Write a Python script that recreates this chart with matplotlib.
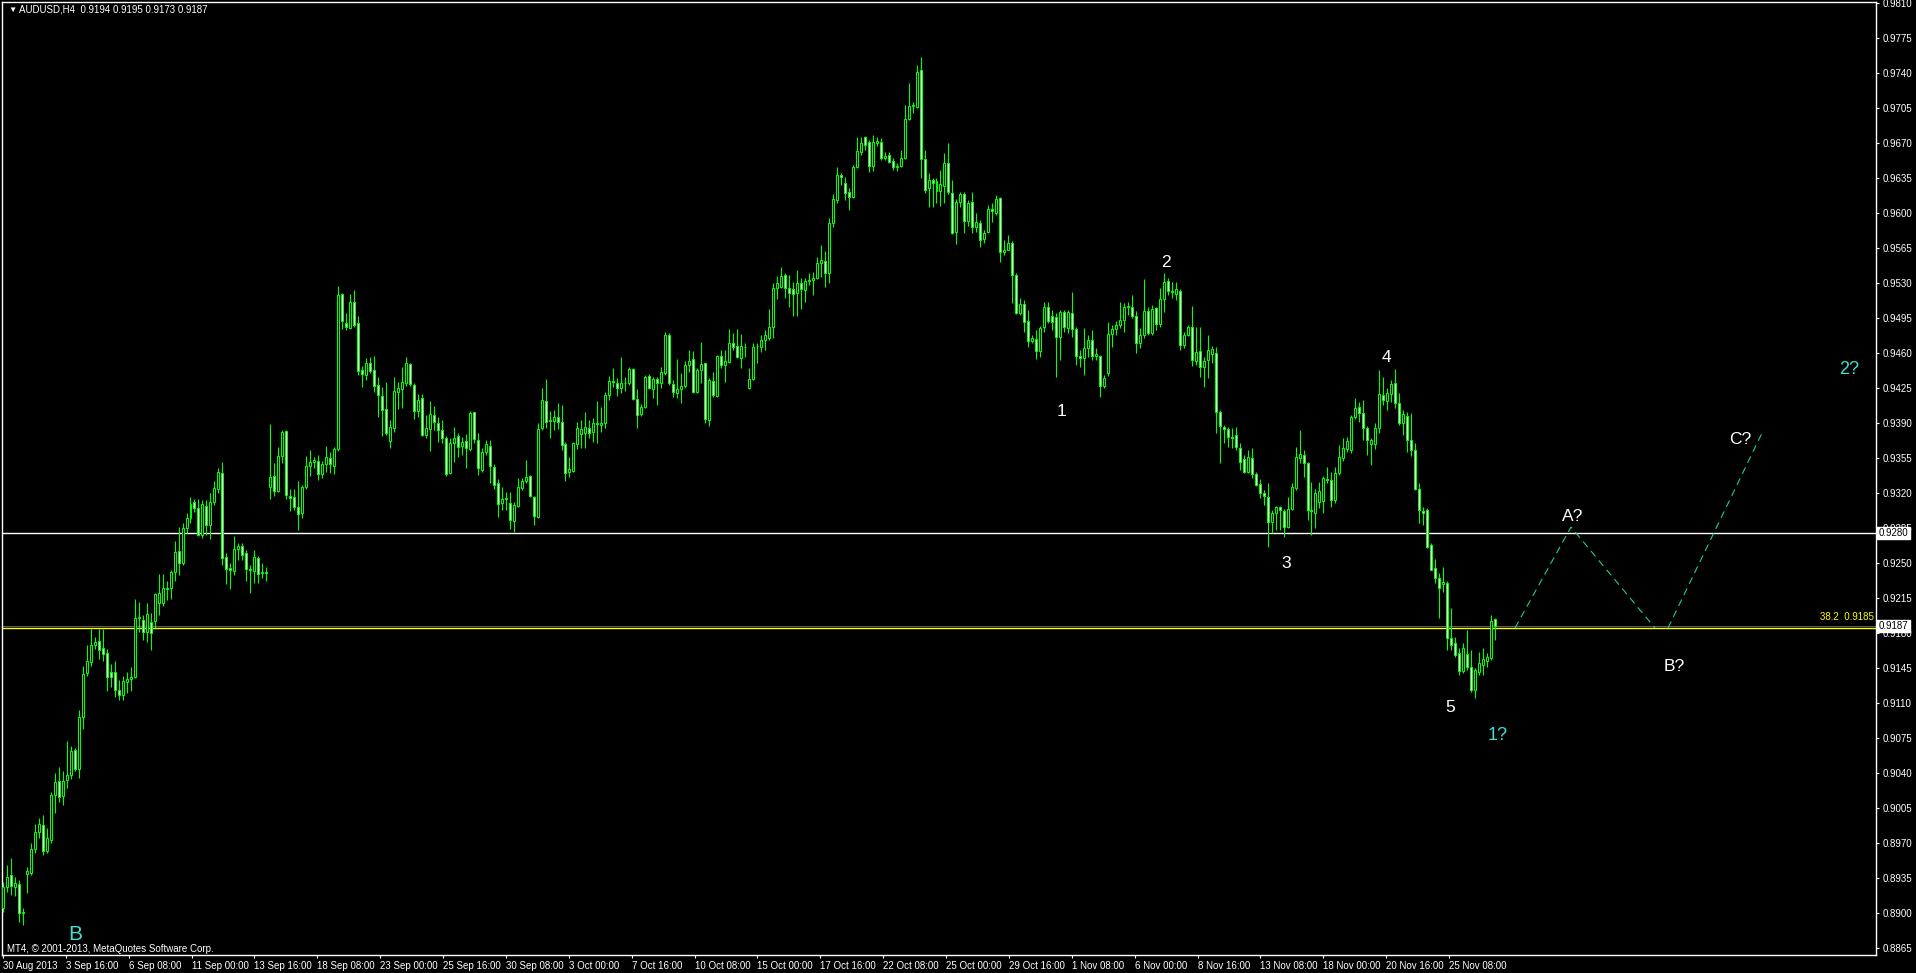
import numpy as np
import matplotlib
matplotlib.use("Agg")
import matplotlib.pyplot as plt
from matplotlib.transforms import blended_transform_factory

# AUDUSD H4 candles, prices in pips (0.0001)
opens = [
    8905, 8926, 8938, 8926, 8929, 8900, 8939, 8940, 8964, 8981,
    8988, 8962, 8973, 9018, 9032, 9017, 9033, 9038, 9063, 9044,
    9096, 9140, 9151, 9168, 9172, 9165, 9160, 9141, 9141, 9123,
    9118, 9131, 9134, 9136, 9195, 9193, 9181, 9191, 9192, 9210,
    9210, 9225, 9225, 9241, 9262, 9250, 9285, 9295, 9311, 9305,
    9278, 9307, 9288, 9311, 9324, 9340, 9256, 9245, 9242, 9264,
    9267, 9260, 9244, 9242, 9255, 9240, 9241, 9326, 9337, 9322,
    9357, 9382, 9317, 9316, 9306, 9300, 9326, 9347, 9351, 9352,
    9339, 9349, 9355, 9347, 9364, 9519, 9490, 9485, 9511, 9490,
    9443, 9438, 9450, 9443, 9428, 9417, 9404, 9372, 9385, 9421,
    9424, 9430, 9449, 9428, 9402, 9415, 9378, 9384, 9398, 9390,
    9383, 9375, 9340, 9370, 9377, 9367, 9372, 9364, 9401, 9373,
    9343, 9361, 9367, 9346, 9330, 9310, 9314, 9310, 9292, 9307,
    9325, 9332, 9337, 9316, 9296, 9385, 9412, 9392, 9392, 9396,
    9391, 9369, 9341, 9342, 9369, 9379, 9380, 9385, 9381, 9390,
    9388, 9390, 9418, 9432, 9430, 9425, 9430, 9430, 9444, 9414,
    9399, 9406, 9437, 9424, 9434, 9430, 9440, 9478, 9429, 9420,
    9424, 9427, 9448, 9454, 9421, 9443, 9450, 9393, 9432, 9417,
    9457, 9448, 9451, 9470, 9467, 9455, 9466, 9425, 9434, 9467,
    9466, 9473, 9475, 9486, 9525, 9526, 9538, 9525, 9524, 9520,
    9530, 9523, 9532, 9533, 9535, 9550, 9552, 9540, 9590, 9613,
    9638, 9630, 9621, 9616, 9646, 9661, 9676, 9671, 9647, 9670,
    9671, 9655, 9658, 9652, 9646, 9647, 9655, 9694, 9707, 9706,
    9743, 9654, 9625, 9633, 9632, 9622, 9627, 9650, 9620, 9581,
    9611, 9619, 9592, 9611, 9586, 9590, 9574, 9581, 9604, 9600,
    9615, 9561, 9563, 9570, 9538, 9500, 9509, 9492, 9472, 9474,
    9462, 9486, 9506, 9497, 9496, 9476, 9501, 9485, 9500, 9484,
    9457, 9455, 9465, 9473, 9457, 9457, 9427, 9440, 9479, 9484,
    9488, 9493, 9506, 9506, 9497, 9470, 9478, 9502, 9480, 9505,
    9489, 9514, 9532, 9522, 9519, 9522, 9468, 9478, 9486, 9452,
    9462, 9446, 9453, 9459, 9460, 9401, 9386, 9384, 9376, 9378,
    9365, 9354, 9341, 9355, 9339, 9329, 9320, 9316, 9291, 9300,
    9306, 9302, 9286, 9304, 9325, 9355, 9358, 9350, 9303, 9300,
    9311, 9312, 9334, 9333, 9313, 9340, 9355, 9364, 9363, 9396,
    9406, 9400, 9385, 9369, 9369, 9385, 9418, 9412, 9419, 9430,
    9410, 9390, 9397, 9373, 9363, 9324, 9302, 9303, 9268, 9245,
    9235, 9229, 9230, 9175, 9170, 9160, 9142, 9159, 9146, 9123,
    9141, 9148, 9152, 9155, 9194,
]
highs = [
    8931, 8948, 8955, 8936, 8933, 8905, 8946, 8970, 8989, 8995,
    8998, 8985, 9021, 9040, 9046, 9042, 9072, 9067, 9065, 9103,
    9147, 9168, 9184, 9176, 9184, 9184, 9164, 9149, 9152, 9133,
    9137, 9141, 9146, 9214, 9211, 9198, 9210, 9200, 9220, 9239,
    9239, 9232, 9243, 9272, 9286, 9290, 9300, 9316, 9314, 9314,
    9313, 9313, 9320, 9332, 9345, 9351, 9260, 9250, 9277, 9270,
    9270, 9263, 9248, 9263, 9257, 9250, 9246, 9389, 9350, 9366,
    9383, 9383, 9324, 9324, 9332, 9328, 9357, 9363, 9356, 9358,
    9352, 9367, 9361, 9366, 9527, 9520, 9500, 9519, 9523, 9497,
    9447, 9455, 9456, 9457, 9436, 9426, 9431, 9393, 9436, 9431,
    9446, 9456, 9450, 9430, 9419, 9419, 9398, 9412, 9407, 9396,
    9393, 9377, 9375, 9386, 9380, 9376, 9379, 9402, 9401, 9380,
    9365, 9373, 9373, 9349, 9334, 9326, 9321, 9321, 9311, 9335,
    9335, 9353, 9338, 9317, 9390, 9425, 9434, 9402, 9403, 9410,
    9408, 9371, 9356, 9371, 9391, 9393, 9401, 9393, 9395, 9412,
    9406, 9421, 9437, 9445, 9435, 9456, 9436, 9446, 9445, 9424,
    9409, 9438, 9439, 9436, 9436, 9446, 9481, 9480, 9433, 9454,
    9440, 9452, 9463, 9462, 9445, 9471, 9450, 9435, 9441, 9458,
    9463, 9463, 9484, 9480, 9484, 9479, 9470, 9445, 9470, 9470,
    9478, 9483, 9504, 9530, 9537, 9546, 9540, 9538, 9531, 9543,
    9535, 9535, 9540, 9541, 9556, 9568, 9562, 9595, 9619, 9646,
    9640, 9636, 9625, 9648, 9676, 9676, 9677, 9673, 9678, 9676,
    9675, 9661, 9661, 9655, 9650, 9663, 9708, 9730, 9711, 9748,
    9756, 9663, 9640, 9635, 9635, 9643, 9660, 9670, 9633, 9614,
    9621, 9621, 9613, 9621, 9600, 9593, 9583, 9608, 9610, 9618,
    9616, 9573, 9578, 9572, 9540, 9515, 9513, 9503, 9478, 9483,
    9487, 9511, 9511, 9503, 9500, 9503, 9503, 9503, 9521, 9486,
    9463, 9485, 9478, 9483, 9465, 9458, 9438, 9491, 9488, 9492,
    9511, 9510, 9511, 9518, 9502, 9485, 9534, 9506, 9508, 9506,
    9525, 9540, 9535, 9531, 9531, 9524, 9481, 9488, 9507, 9486,
    9486, 9456, 9478, 9467, 9466, 9403, 9388, 9386, 9385, 9386,
    9370, 9358, 9363, 9365, 9341, 9334, 9323, 9330, 9303, 9307,
    9307, 9304, 9316, 9330, 9366, 9383, 9363, 9351, 9331, 9324,
    9331, 9337, 9346, 9341, 9346, 9368, 9375, 9376, 9398, 9415,
    9411, 9413, 9387, 9375, 9390, 9443, 9436, 9425, 9433, 9444,
    9420, 9403, 9401, 9400, 9370, 9330, 9306, 9305, 9270, 9254,
    9240, 9246, 9232, 9205, 9176, 9165, 9170, 9183, 9163, 9145,
    9161, 9165, 9160, 9198, 9195,
]
lows = [
    8901, 8921, 8918, 8917, 8891, 8888, 8920, 8938, 8960, 8975,
    8958, 8960, 8970, 9000, 9011, 9008, 9025, 9034, 9042, 9035,
    9084, 9137, 9147, 9164, 9154, 9152, 9122, 9126, 9116, 9113,
    9113, 9120, 9122, 9135, 9181, 9173, 9171, 9163, 9185, 9198,
    9207, 9213, 9214, 9232, 9238, 9248, 9280, 9290, 9301, 9277,
    9275, 9278, 9274, 9308, 9320, 9248, 9229, 9224, 9238, 9253,
    9253, 9232, 9220, 9230, 9230, 9235, 9232, 9314, 9317, 9321,
    9350, 9314, 9302, 9303, 9283, 9295, 9324, 9337, 9345, 9333,
    9335, 9341, 9340, 9339, 9362, 9484, 9483, 9484, 9486, 9438,
    9426, 9433, 9440, 9421, 9396, 9377, 9378, 9365, 9381, 9404,
    9405, 9427, 9427, 9394, 9396, 9377, 9375, 9362, 9383, 9371,
    9370, 9337, 9339, 9351, 9356, 9358, 9345, 9362, 9370, 9338,
    9341, 9358, 9330, 9324, 9296, 9303, 9303, 9284, 9281, 9306,
    9323, 9330, 9316, 9288, 9295, 9383, 9385, 9375, 9383, 9384,
    9363, 9332, 9336, 9341, 9364, 9365, 9365, 9375, 9371, 9370,
    9381, 9385, 9413, 9426, 9417, 9420, 9422, 9428, 9413, 9385,
    9397, 9405, 9424, 9415, 9408, 9425, 9438, 9428, 9416, 9415,
    9410, 9425, 9441, 9420, 9420, 9430, 9390, 9387, 9416, 9416,
    9445, 9431, 9450, 9463, 9455, 9445, 9456, 9424, 9433, 9450,
    9461, 9463, 9473, 9475, 9514, 9525, 9515, 9506, 9497, 9497,
    9504, 9511, 9528, 9518, 9534, 9536, 9526, 9530, 9586, 9610,
    9628, 9613, 9603, 9615, 9645, 9658, 9663, 9641, 9642, 9667,
    9653, 9653, 9650, 9643, 9642, 9646, 9654, 9693, 9700, 9705,
    9635, 9620, 9606, 9606, 9610, 9607, 9610, 9619, 9579, 9569,
    9606, 9580, 9587, 9580, 9581, 9566, 9570, 9580, 9591, 9598,
    9551, 9558, 9563, 9510, 9499, 9498, 9481, 9466, 9470, 9454,
    9456, 9481, 9490, 9483, 9436, 9453, 9481, 9480, 9476, 9448,
    9446, 9438, 9456, 9453, 9453, 9416, 9425, 9437, 9466, 9478,
    9485, 9481, 9498, 9495, 9460, 9465, 9475, 9478, 9478, 9483,
    9486, 9501, 9518, 9515, 9513, 9463, 9465, 9477, 9447, 9448,
    9436, 9426, 9435, 9450, 9380, 9350, 9370, 9366, 9365, 9363,
    9343, 9340, 9340, 9335, 9327, 9315, 9308, 9266, 9280, 9283,
    9283, 9276, 9285, 9303, 9323, 9350, 9336, 9293, 9278, 9285,
    9305, 9300, 9330, 9306, 9310, 9338, 9352, 9361, 9360, 9394,
    9391, 9373, 9358, 9348, 9364, 9380, 9408, 9403, 9411, 9405,
    9388, 9378, 9361, 9357, 9323, 9290, 9288, 9265, 9243, 9230,
    9195, 9221, 9163, 9163, 9156, 9138, 9140, 9143, 9121, 9115,
    9138, 9138, 9146, 9153, 9173,
]
closes = [
    8926, 8936, 8927, 8930, 8900, 8901, 8942, 8964, 8981, 8989,
    8962, 8975, 9018, 9031, 9016, 9032, 9038, 9062, 9044, 9096,
    9139, 9152, 9168, 9171, 9163, 9159, 9136, 9136, 9123, 9118,
    9132, 9134, 9136, 9195, 9196, 9181, 9199, 9180, 9219, 9220,
    9225, 9224, 9241, 9261, 9250, 9285, 9295, 9309, 9305, 9278,
    9309, 9288, 9311, 9325, 9341, 9255, 9244, 9243, 9264, 9267,
    9258, 9244, 9243, 9256, 9239, 9241, 9240, 9336, 9322, 9357,
    9381, 9318, 9315, 9306, 9299, 9326, 9347, 9351, 9353, 9339,
    9349, 9356, 9349, 9364, 9518, 9492, 9486, 9511, 9488, 9442,
    9439, 9450, 9442, 9427, 9418, 9403, 9380, 9386, 9422, 9425,
    9431, 9450, 9429, 9402, 9413, 9378, 9385, 9399, 9391, 9383,
    9375, 9339, 9370, 9375, 9366, 9371, 9365, 9400, 9374, 9345,
    9361, 9369, 9347, 9328, 9309, 9314, 9315, 9293, 9308, 9326,
    9332, 9336, 9317, 9297, 9384, 9413, 9391, 9393, 9396, 9391,
    9368, 9340, 9344, 9370, 9385, 9384, 9386, 9380, 9390, 9389,
    9390, 9418, 9432, 9431, 9425, 9430, 9430, 9444, 9414, 9398,
    9406, 9436, 9425, 9434, 9430, 9441, 9478, 9430, 9421, 9424,
    9427, 9448, 9452, 9421, 9443, 9449, 9394, 9433, 9418, 9457,
    9448, 9452, 9470, 9466, 9456, 9467, 9466, 9434, 9466, 9467,
    9473, 9478, 9486, 9525, 9530, 9537, 9525, 9520, 9519, 9530,
    9524, 9532, 9533, 9535, 9550, 9553, 9540, 9590, 9614, 9638,
    9636, 9620, 9616, 9646, 9662, 9670, 9668, 9647, 9671, 9672,
    9655, 9657, 9651, 9646, 9647, 9655, 9694, 9707, 9708, 9741,
    9654, 9623, 9633, 9630, 9622, 9629, 9650, 9621, 9580, 9611,
    9619, 9592, 9610, 9586, 9591, 9573, 9580, 9604, 9602, 9614,
    9561, 9563, 9570, 9538, 9500, 9509, 9491, 9472, 9475, 9462,
    9485, 9506, 9492, 9491, 9476, 9501, 9486, 9501, 9484, 9457,
    9455, 9465, 9473, 9457, 9459, 9427, 9435, 9479, 9484, 9488,
    9493, 9506, 9507, 9497, 9470, 9478, 9502, 9480, 9504, 9489,
    9514, 9531, 9522, 9521, 9524, 9468, 9478, 9486, 9453, 9461,
    9446, 9452, 9463, 9464, 9401, 9387, 9384, 9376, 9375, 9366,
    9351, 9341, 9356, 9339, 9328, 9320, 9317, 9291, 9300, 9306,
    9303, 9286, 9304, 9326, 9356, 9359, 9350, 9303, 9302, 9320,
    9322, 9335, 9333, 9313, 9340, 9356, 9365, 9372, 9396, 9405,
    9400, 9385, 9373, 9373, 9385, 9419, 9413, 9420, 9429, 9410,
    9390, 9399, 9373, 9363, 9324, 9303, 9300, 9266, 9243, 9235,
    9225, 9231, 9175, 9168, 9158, 9142, 9165, 9146, 9123, 9143,
    9150, 9154, 9156, 9192, 9187,
]

date_labels = ['30 Aug 2013', '3 Sep 16:00', '6 Sep 08:00', '11 Sep 00:00', '13 Sep 16:00',
               '18 Sep 08:00', '23 Sep 00:00', '25 Sep 16:00', '30 Sep 08:00', '3 Oct 00:00',
               '7 Oct 16:00', '10 Oct 08:00', '15 Oct 00:00', '17 Oct 16:00', '22 Oct 08:00',
               '25 Oct 00:00', '29 Oct 16:00', '1 Nov 08:00', '6 Nov 00:00', '8 Nov 16:00',
               '13 Nov 08:00', '18 Nov 00:00', '20 Nov 16:00', '25 Nov 08:00']
price_ticks = [8865, 8900, 8935, 8970, 9005, 9040, 9075, 9110, 9145, 9180, 9215, 9250,
               9285, 9320, 9355, 9390, 9425, 9460, 9495, 9530, 9565, 9600, 9635, 9670,
               9705, 9740, 9775, 9810]

wave_labels = ['1', '2', '3', '4', '5']
wave_px = [(1062, 412), (1166, 263), (1286, 564), (1386, 357), (1450, 708)]
abc_labels = ['A?', 'B?', 'C?']
abc_px = [(1573, 517), (1674, 667), (1740, 440)]

level_white = 9280
level_fib = 9185
bid = 9187

plt.rcParams['font.family'] = ['Liberation Sans', 'DejaVu Sans']

W, H = 1916, 973
o = np.array(opens) / 1e4
h = np.array(highs) / 1e4
l = np.array(lows) / 1e4
c = np.array(closes) / 1e4
n = len(c)
xs = np.arange(n)

# pixel layout helpers (bar 0 at x=3px, last bar at x=1495px, 1 pip per px)
sp = (1495 - 3) / (n - 1)
def dx(X):
    return (X - 3) / sp
def dy(Y):
    return 0.9280 - (Y - 533) / 1e4

fig = plt.figure(figsize=(W / 100, H / 100), dpi=100, facecolor='black')
ax = fig.add_axes([2 / W, (H - 955) / H, 1874 / W, 953 / H])
ax.set_facecolor('black')
ax.set_xlim(dx(2), dx(1876))
ax.set_ylim(dy(955), dy(2))

green = '#00FF00'
ax.vlines(xs, l, h, color=green, lw=0.8, zorder=2)
bottoms = np.minimum(o, c)
heights = np.abs(c - o)
faces = ['white' if cc < oo else 'black' for oo, cc in zip(o, c)]
ax.bar(xs, heights, bottom=bottoms, width=0.5, color=faces, edgecolor=green,
       linewidth=0.75, zorder=3)

# horizontal levels
ax.axhline(level_white / 1e4, color='white', lw=1, zorder=1)
ax.axhline(bid / 1e4 + 0.00005, color='#707070', lw=0.6, zorder=1)
ax.axhline(level_fib / 1e4, color='#FFFF00', lw=1, zorder=1)
ax.text(dx(1874), level_fib / 1e4 + 0.00055, '38.2  0.9185', color='#FFFF00',
        fontsize=7, ha='right', va='bottom')

# projected path
dash = '#1ED27A'
ax.plot([dx(1515), dx(1571), dx(1655)], [dy(628), dy(527), dy(628)], color=dash,
        lw=0.8, linestyle=(0, (6.5, 4.5)), zorder=4)
ax.plot([dx(1668), dx(1762)], [dy(628), dy(433)], color=dash,
        lw=0.8, linestyle=(0, (6.5, 4.5)), zorder=4)

for t, (X, Y) in zip(wave_labels, wave_px):
    ax.text(dx(X), dy(Y), t, color='white', fontsize=12.5, ha='center', va='center')
for t, (X, Y) in zip(abc_labels, abc_px):
    ax.text(dx(X), dy(Y), t, color='white', fontsize=12.5, ha='center', va='center')
turq = '#40E0D0'
ax.text(dx(1498), dy(736), '1?', color=turq, fontsize=13, ha='center', va='center')
ax.text(dx(1849), dy(370), '2?', color=turq, fontsize=13, ha='center', va='center')
ax.text(dx(75), dy(934), 'B', color=turq, fontsize=15, ha='center', va='center')

# axes styling
for s in ax.spines.values():
    s.set_color('white')
    s.set_linewidth(1)
ax.yaxis.tick_right()
ax.set_yticks(np.array(price_ticks) / 1e4)
ax.set_yticklabels([f'{p / 1e4:.4f}' for p in price_ticks])
ax.tick_params(axis='y', colors='white', labelcolor='white', labelsize=7,
               direction='out', length=2.5, width=0.8, pad=2)
ax.set_xticks([dx(3 + 62.87 * k) for k in range(len(date_labels))])
ax.set_xticklabels(date_labels, ha='left')
ax.tick_params(axis='x', colors='white', labelcolor='white', labelsize=7,
               direction='out', length=2.5, width=0.8, pad=1.5)

# price boxes on the right scale
tr = blended_transform_factory(ax.transAxes, ax.transData)
for v in (level_white, bid):
    ax.text(1.0015, v / 1e4, f'{v / 1e4:.4f}', transform=tr, color='black', fontsize=7,
            ha='left', va='center', zorder=10, clip_on=False,
            bbox=dict(boxstyle='square,pad=0.15', facecolor='white', edgecolor='white'))

fig.text(8 / W, 1 - 10 / H, '\u25bc', color='white', fontsize=6, ha='left', va='center')
fig.text(19 / W, 1 - 10 / H, 'AUDUSD,H4  0.9194 0.9195 0.9173 0.9187', color='white',
         fontsize=7, ha='left', va='center')
fig.text(7 / W, 1 - 949 / H, 'MT4, \u00a9 2001-2013, MetaQuotes Software Corp.', color='white',
         fontsize=7, ha='left', va='center')

fig.savefig('out.png', dpi=100, facecolor='black')
